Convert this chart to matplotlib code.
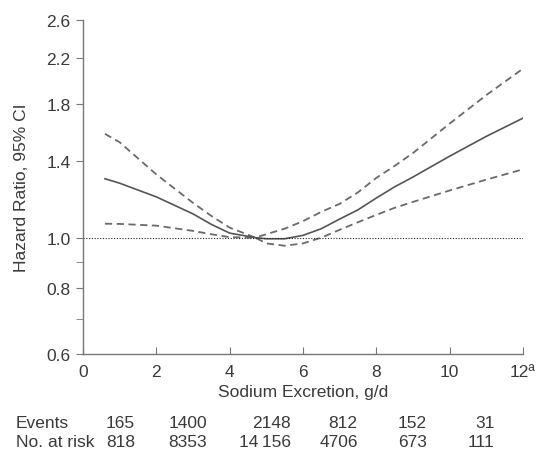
import numpy as np
import matplotlib
matplotlib.use("Agg")
import matplotlib.pyplot as plt
from matplotlib.ticker import FixedLocator, NullFormatter
import matplotlib.transforms as mtransforms

plt.rcParams['font.family'] = ['Liberation Sans', 'DejaVu Sans']

# values
sodium = [0.6, 1.0, 2.0, 3.0, 3.5, 4.0, 4.7, 5.0, 5.5, 6.0, 6.5, 7.0, 7.5, 8.0, 8.5, 9.0, 10.0, 11.0, 12.0]
hr = [1.295, 1.27, 1.196, 1.11, 1.06, 1.02, 1.0, 0.995, 0.995, 1.01, 1.04, 1.085, 1.13, 1.19, 1.25, 1.305, 1.43, 1.56, 1.69]
ci_upper = [1.577, 1.52, 1.32, 1.165, 1.10, 1.045, 1.0, 1.015, 1.04, 1.075, 1.12, 1.16, 1.22, 1.30, 1.37, 1.45, 1.65, 1.87, 2.10]
ci_lower = [1.063, 1.062, 1.054, 1.03, 1.015, 1.002, 1.0, 0.975, 0.965, 0.975, 1.0, 1.035, 1.07, 1.105, 1.14, 1.17, 1.23, 1.29, 1.35]

y_ticks = [0.6, 0.8, 1.0, 1.4, 1.8, 2.2, 2.6]
x_ticks = [0, 2, 4, 6, 8, 10, 12]
x_ticklabels = ['0', '2', '4', '6', '8', '10', '12\u00aa']

# right edge of each column in the at-risk table (in g/d units)
table_x = [1.42, 3.39, 5.66, 7.49, 9.37, 11.23]
events = ['165', '1400', '2148', '812', '152', '31']
at_risk = ['818', '8353', '14\u2009156', '4706', '673', '111']

grey = '#6a6a6a'
txt = '#3a3a3a'
fs = 12.5

fig = plt.figure(figsize=(5.37, 4.52), dpi=100)
ax = fig.add_axes([0.1545, 0.2146, 0.8195, 0.7390])

ax.plot(sodium, ci_upper, color=grey, lw=1.3, dashes=(4, 2.5))
ax.plot(sodium, ci_lower, color=grey, lw=1.3, dashes=(4, 2.5))
ax.plot(sodium, hr, color='#555555', lw=1.2)
ax.plot([0, 12], [1.0, 1.0], color='#222222', lw=0.8, ls=(0, (1, 1.5)))

ax.set_yscale('log')
ax.set_ylim(0.6, 2.6)
ax.set_xlim(0, 12)
ax.yaxis.set_major_locator(FixedLocator(y_ticks))
ax.yaxis.set_minor_locator(FixedLocator([0.7, 0.9]))
ax.yaxis.set_minor_formatter(NullFormatter())
ax.set_yticklabels(['%.1f' % v for v in y_ticks])
ax.set_xticks(x_ticks)
ax.set_xticklabels(x_ticklabels)

for side in ['top', 'right']:
    ax.spines[side].set_visible(False)
for side in ['left', 'bottom']:
    ax.spines[side].set_color('#777777')
    ax.spines[side].set_linewidth(1.0)

ax.tick_params(axis='y', which='major', direction='out', length=5, color='#777777',
               labelsize=fs, labelcolor=txt, pad=4)
ax.tick_params(axis='y', which='minor', direction='out', length=5, color='#777777')
ax.tick_params(axis='x', direction='in', length=5, color='#777777',
               labelsize=fs, labelcolor=txt, pad=7)

ax.set_xlabel('Sodium Excretion, g/d', fontsize=fs, color=txt, labelpad=4)
ax.set_ylabel('Hazard Ratio, 95% CI', fontsize=fs, color=txt)
ax.yaxis.set_label_coords(-0.122, 0.5)

# at-risk table under the x axis
trans = mtransforms.blended_transform_factory(ax.transData, fig.transFigure)
for xv, e, n in zip(table_x, events, at_risk):
    ax.text(xv, 0.064, e, transform=trans, ha='right', va='center', fontsize=fs, color=txt)
    ax.text(xv, 0.020, n, transform=trans, ha='right', va='center', fontsize=fs, color=txt)
fig.text(0.03, 0.064, 'Events', ha='left', va='center', fontsize=fs, color=txt)
fig.text(0.03, 0.020, 'No. at risk', ha='left', va='center', fontsize=fs, color=txt)

fig.savefig('out.png', dpi=100)
